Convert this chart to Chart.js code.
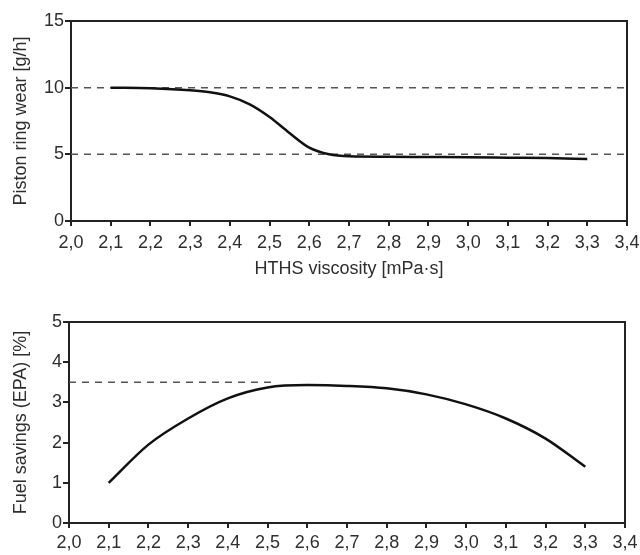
<!DOCTYPE html>
<html>
<head>
<meta charset="utf-8">
<script src="https://cdn.jsdelivr.net/npm/chart.js@4"></script>
<style>
  body { margin: 0; background: #fff; }
  .box { position: absolute; left: 0; width: 640px; }
  #top { top: 0; height: 284px; }
  #bottom { top: 284px; height: 271px; }
</style>
</head>
<body>
<div class="box" id="top"><canvas id="wearChart"></canvas></div>
<div class="box" id="bottom"><canvas id="fuelChart"></canvas></div>
<script>
// HTHS viscosity points (mPa·s)
const wearX = [2.1, 2.2, 2.3, 2.35, 2.4, 2.45, 2.5, 2.55, 2.6, 2.65, 2.7, 2.8, 2.9, 3.0, 3.1, 3.2, 3.3];
// piston ring wear (g/h)
const wearY = [10.0, 9.95, 9.8, 9.65, 9.35, 8.75, 7.8, 6.6, 5.5, 5.0, 4.85, 4.82, 4.8, 4.78, 4.75, 4.72, 4.65];

const fuelX = [2.1, 2.2, 2.3, 2.4, 2.5, 2.6, 2.7, 2.8, 2.9, 3.0, 3.1, 3.2, 3.3];
// fuel savings EPA (%)
const fuelY = [1.0, 1.95, 2.6, 3.1, 3.37, 3.43, 3.41, 3.35, 3.2, 2.95, 2.6, 2.1, 1.4];

// reference levels
const wearLevels = [10, 5];
const fuelLevel = 3.5;
const fuelLevelEnd = 2.52;

const xMin = 2.0, xMax = 3.4;
const textColor = '#2e2e2e';
const fontFam = '"Liberation Sans", Arial, sans-serif';

// draws the top and right edges so the plot sits in a closed box
const frame = {
  id: 'frame',
  beforeDatasetsDraw(chart) {
    const a = chart.chartArea, c = chart.ctx;
    c.save();
    c.strokeStyle = '#222';
    c.lineWidth = 2;
    c.beginPath();
    c.moveTo(a.left, a.top);
    c.lineTo(a.right, a.top);
    c.lineTo(a.right, a.bottom);
    c.stroke();
    c.restore();
  }
};

function pts(xs, ys) {
  return xs.map((x, i) => ({ x: x, y: ys[i] }));
}

function dashed(y, x0, x1) {
  return {
    data: [{ x: x0, y: y }, { x: x1, y: y }],
    borderColor: '#555',
    borderWidth: 1.5,
    borderDash: [7, 6],
    pointRadius: 0,
    fill: false
  };
}

function curve(xs, ys) {
  return {
    data: pts(xs, ys),
    borderColor: '#111',
    borderWidth: 2.5,
    pointRadius: 0,
    cubicInterpolationMode: 'monotone',
    fill: false
  };
}

function makeChart(id, datasets, yMax, yStep, yTitle, xTitle, yWidth, xHeight, xPad, pad) {
  return new Chart(document.getElementById(id), {
    type: 'line',
    data: { datasets: datasets },
    plugins: [frame],
    options: {
      animation: false,
      responsive: true,
      maintainAspectRatio: false,
      layout: { padding: pad },
      plugins: { legend: { display: false }, tooltip: { enabled: false } },
      scales: {
        x: {
          type: 'linear',
          min: xMin,
          max: xMax,
          afterFit: s => {
            s.height = xHeight;
            // let the end labels hang into the padding
            s.paddingLeft = 0;
            s.paddingRight = 0;
          },
          afterBuildTicks: s => {
            s.ticks = [];
            for (let i = 0; i <= 14; i++) s.ticks.push({ value: +(xMin + i * 0.1).toFixed(1) });
          },
          border: { display: true, color: '#222', width: 2 },
          grid: { drawOnChartArea: false, color: '#222', lineWidth: 2, tickLength: 5 },
          ticks: {
            color: textColor,
            font: { family: fontFam, size: 18 },
            padding: xPad,
            maxRotation: 0,
            autoSkip: false,
            callback: v => v.toFixed(1).replace('.', ',')
          },
          title: {
            display: !!xTitle,
            text: xTitle,
            color: textColor,
            font: { family: fontFam, size: 18 },
            padding: { top: 6 }
          }
        },
        y: {
          min: 0,
          max: yMax,
          afterFit: s => {
            s.width = yWidth;
            s.paddingTop = 0;
            s.paddingBottom = 0;
          },
          border: { display: true, color: '#222', width: 2 },
          grid: { drawOnChartArea: false, color: '#222', lineWidth: 2, tickLength: 6 },
          ticks: {
            stepSize: yStep,
            color: textColor,
            font: { family: fontFam, size: 18 },
            padding: 1
          },
          title: {
            display: true,
            text: yTitle,
            color: textColor,
            font: { family: fontFam, size: 18 },
            padding: 0
          }
        }
      }
    }
  });
}

makeChart('wearChart',
  [curve(wearX, wearY)].concat(wearLevels.map(l => dashed(l, xMin, xMax))),
  15, 5, 'Piston ring wear [g/h]', 'HTHS viscosity [mPa·s]',
  61, 63, 6, { top: 21, right: 13, left: 10, bottom: 0 });

makeChart('fuelChart',
  [curve(fuelX, fuelY), dashed(fuelLevel, xMin, fuelLevelEnd)],
  5, 1, 'Fuel savings (EPA) [%]', '',
  59, 32, 4, { top: 38, right: 15, left: 10, bottom: 0 });
</script>
</body>
</html>
